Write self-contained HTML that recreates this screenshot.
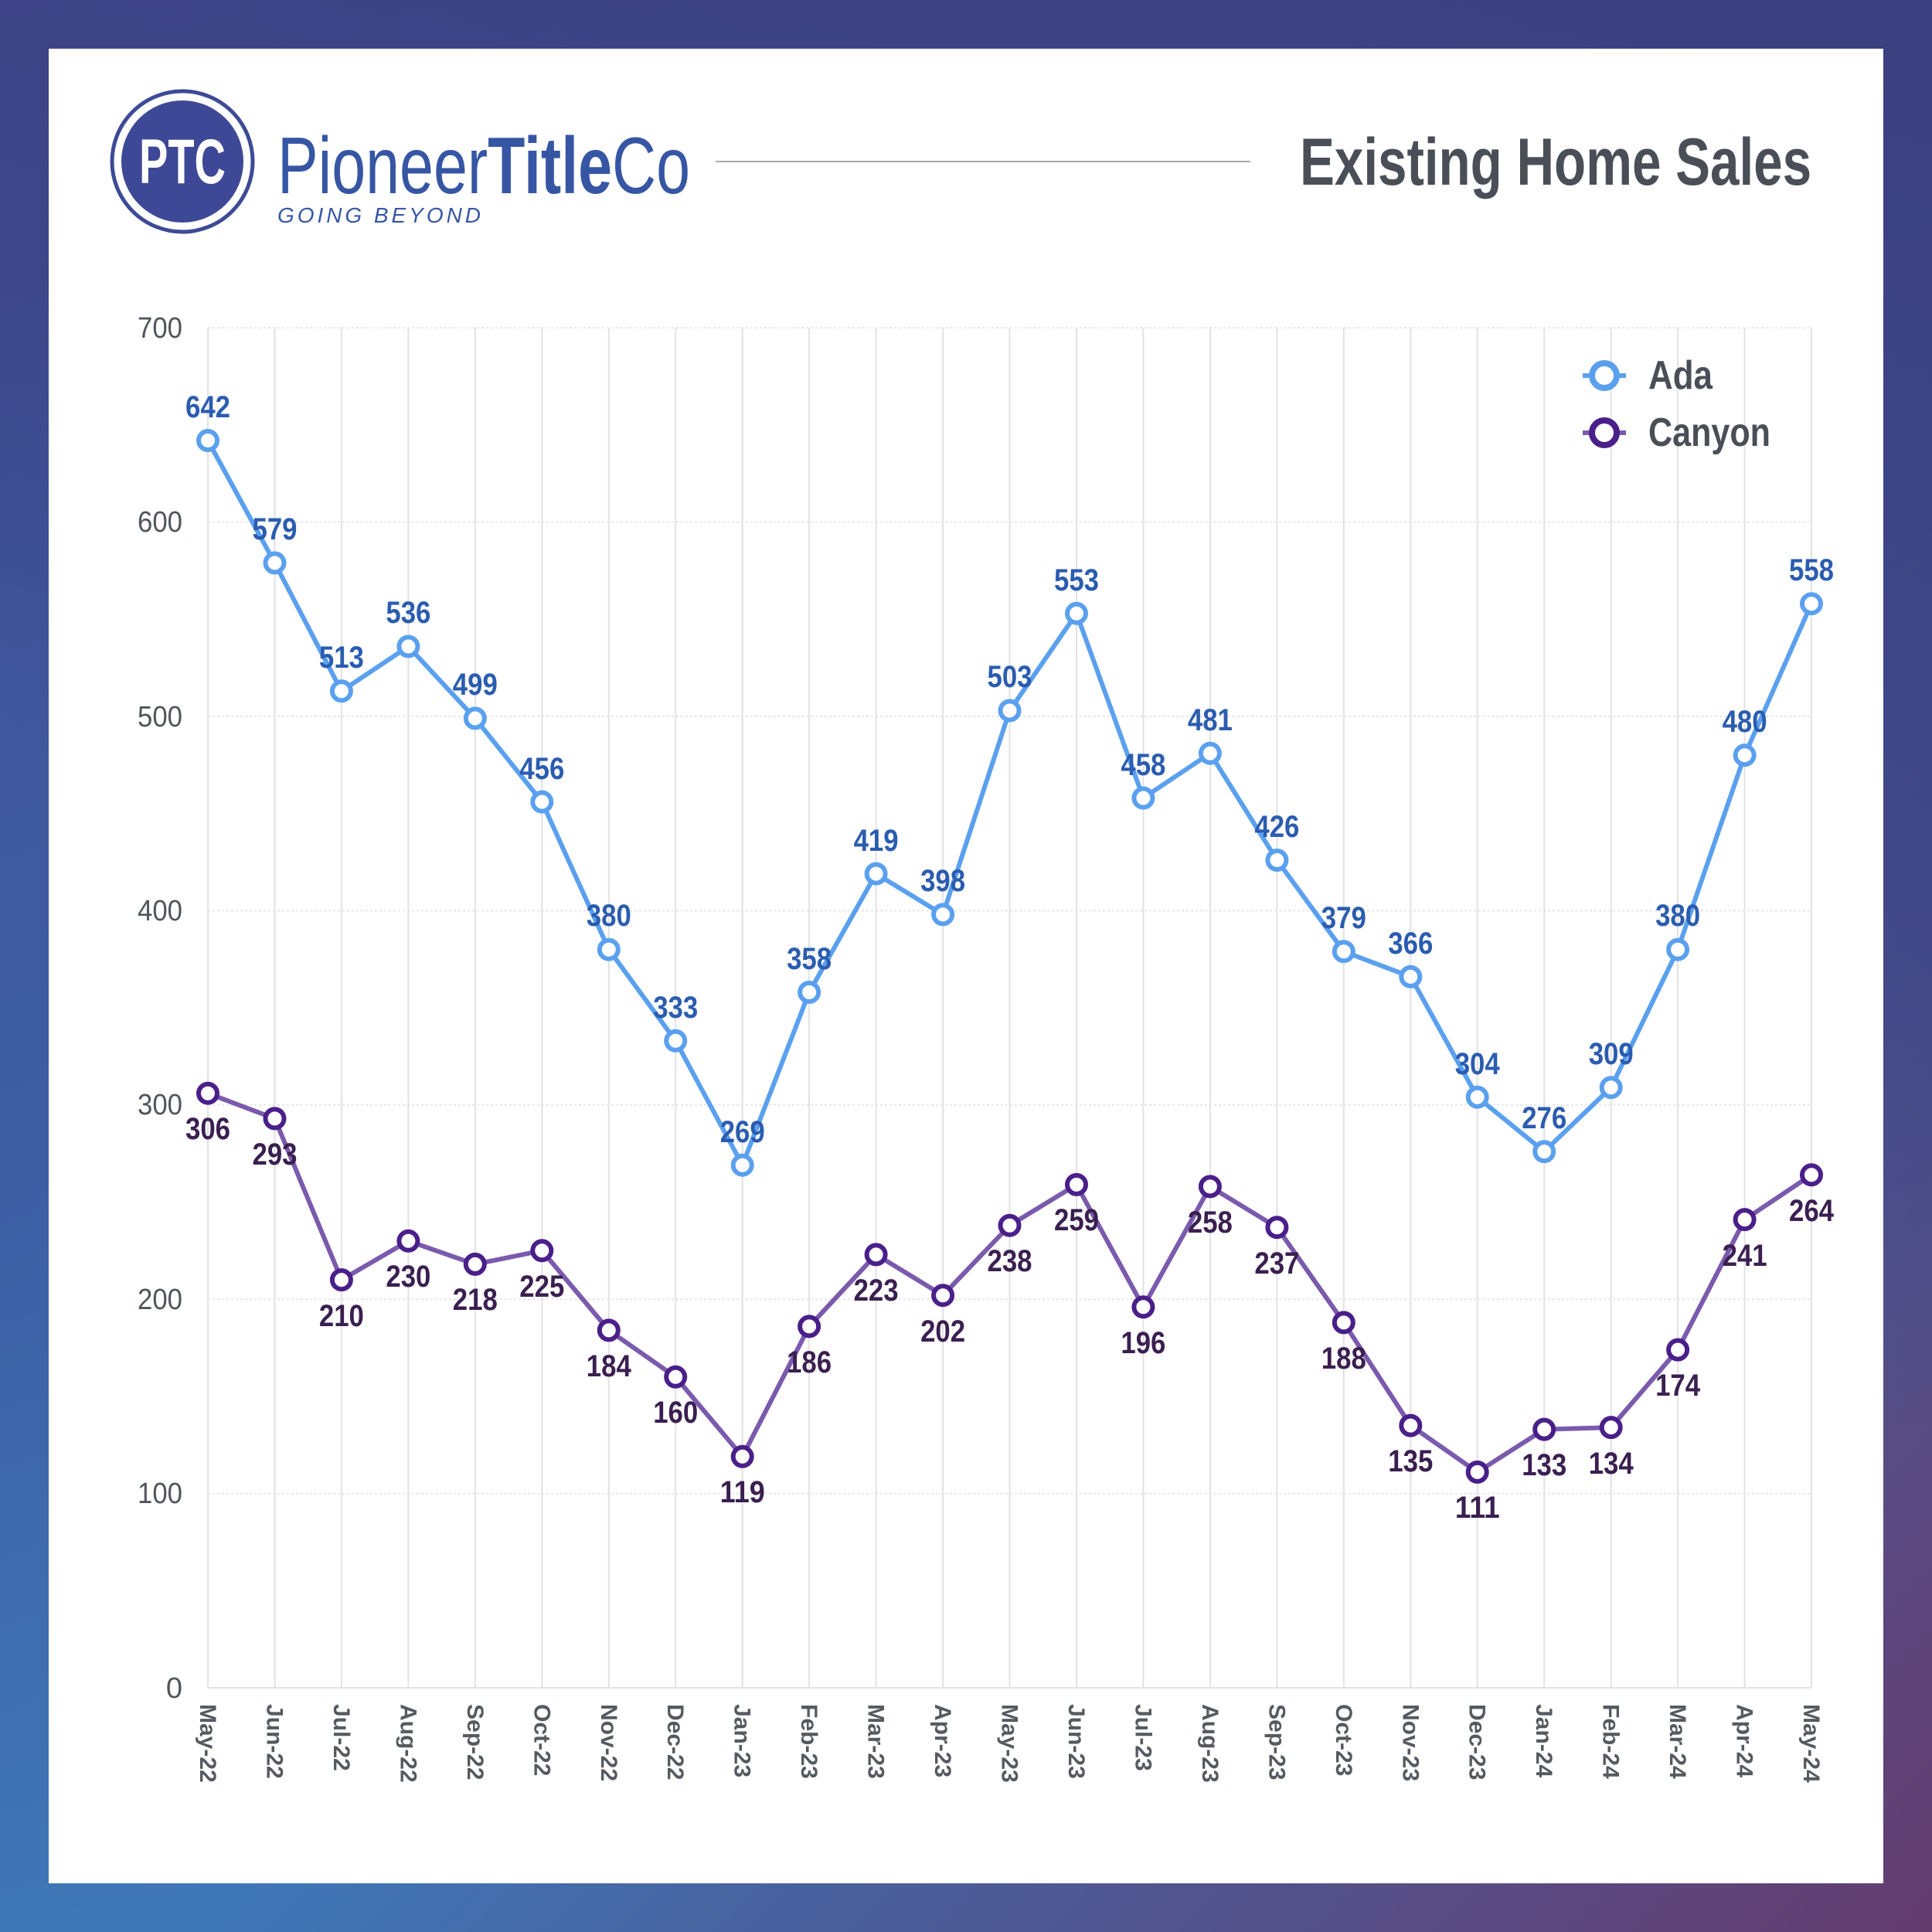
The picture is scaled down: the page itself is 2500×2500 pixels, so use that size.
<!DOCTYPE html>
<html><head><meta charset="utf-8"><style>
html,body{margin:0;padding:0;width:2500px;height:2500px;overflow:hidden}
body{background:linear-gradient(160deg,#414d93 0%,#3e5ea4 45%,#3f78b8 75%,#3f78b8 100%)}
.ov{position:absolute;left:0;top:0;width:2500px;height:2500px;background:linear-gradient(200deg,rgba(59,63,128,1) 0%,rgba(59,63,128,0.6) 35%,rgba(94,61,110,0) 55%),linear-gradient(315deg,rgba(100,60,110,1) 0%,rgba(90,60,115,0.5) 25%,rgba(90,60,115,0) 45%)}
svg{position:absolute;left:0;top:0}
text{font-family:"Liberation Sans Narrow","Liberation Sans",sans-serif}
</style></head><body><div class="ov"></div>
<svg width="2500" height="2500" viewBox="0 0 2500 2500">
<rect x="63" y="63" width="2374" height="2374" fill="#fff"/>
<circle cx="236" cy="209" r="91" fill="#fff" stroke="#3d4a96" stroke-width="5"/>
<circle cx="236" cy="209" r="79" fill="#3d4896"/>
<text x="236" y="237" text-anchor="middle" font-size="82" fill="#fff" font-weight="bold" textLength="112" lengthAdjust="spacingAndGlyphs">PTC</text>
<text x="359" y="250" font-size="104" fill="#3656a4" textLength="534" lengthAdjust="spacingAndGlyphs">Pioneer<tspan font-weight="bold">Title</tspan>Co</text>
<text x="359" y="288" font-size="28" font-style="italic" fill="#3656a4" textLength="263" lengthAdjust="spacing">GOING  BEYOND</text>
<line x1="926" y1="209" x2="1618" y2="209" stroke="#aaa" stroke-width="2"/>
<text x="2344" y="239" text-anchor="end" font-size="86" font-weight="bold" fill="#4a4f57" textLength="662" lengthAdjust="spacingAndGlyphs">Existing Home Sales</text>
<g stroke="#e6e6e6" stroke-width="2" stroke-dasharray="3,3">
<line x1="269" y1="424.2" x2="2344" y2="424.2"/><line x1="269" y1="675.6" x2="2344" y2="675.6"/><line x1="269" y1="927" x2="2344" y2="927"/><line x1="269" y1="1178.4" x2="2344" y2="1178.4"/><line x1="269" y1="1429.8" x2="2344" y2="1429.8"/><line x1="269" y1="1681.2" x2="2344" y2="1681.2"/><line x1="269" y1="1932.6" x2="2344" y2="1932.6"/>
</g>
<g stroke="#e2e2e2" stroke-width="2">
<line x1="269" y1="424" x2="269" y2="2184"/><line x1="355.5" y1="424" x2="355.5" y2="2184"/><line x1="441.9" y1="424" x2="441.9" y2="2184"/><line x1="528.4" y1="424" x2="528.4" y2="2184"/><line x1="614.8" y1="424" x2="614.8" y2="2184"/><line x1="701.3" y1="424" x2="701.3" y2="2184"/><line x1="787.8" y1="424" x2="787.8" y2="2184"/><line x1="874.2" y1="424" x2="874.2" y2="2184"/><line x1="960.7" y1="424" x2="960.7" y2="2184"/><line x1="1047.1" y1="424" x2="1047.1" y2="2184"/><line x1="1133.6" y1="424" x2="1133.6" y2="2184"/><line x1="1220.1" y1="424" x2="1220.1" y2="2184"/><line x1="1306.5" y1="424" x2="1306.5" y2="2184"/><line x1="1393" y1="424" x2="1393" y2="2184"/><line x1="1479.4" y1="424" x2="1479.4" y2="2184"/><line x1="1565.9" y1="424" x2="1565.9" y2="2184"/><line x1="1652.4" y1="424" x2="1652.4" y2="2184"/><line x1="1738.8" y1="424" x2="1738.8" y2="2184"/><line x1="1825.3" y1="424" x2="1825.3" y2="2184"/><line x1="1911.7" y1="424" x2="1911.7" y2="2184"/><line x1="1998.2" y1="424" x2="1998.2" y2="2184"/><line x1="2084.7" y1="424" x2="2084.7" y2="2184"/><line x1="2171.1" y1="424" x2="2171.1" y2="2184"/><line x1="2257.6" y1="424" x2="2257.6" y2="2184"/><line x1="2344" y1="424" x2="2344" y2="2184"/>
<line x1="269" y1="2184" x2="2344" y2="2184"/>
</g>
<g font-size="38" fill="#50555c" text-anchor="end">
<text x="236" y="2197">0</text><text x="236" y="1945" textLength="58" lengthAdjust="spacingAndGlyphs">100</text><text x="236" y="1694" textLength="58" lengthAdjust="spacingAndGlyphs">200</text><text x="236" y="1442" textLength="58" lengthAdjust="spacingAndGlyphs">300</text><text x="236" y="1191" textLength="58" lengthAdjust="spacingAndGlyphs">400</text><text x="236" y="940" textLength="58" lengthAdjust="spacingAndGlyphs">500</text><text x="236" y="688" textLength="58" lengthAdjust="spacingAndGlyphs">600</text><text x="236" y="437" textLength="58" lengthAdjust="spacingAndGlyphs">700</text>
</g>
<g font-size="30" font-weight="bold" fill="#555a60">
<text transform="translate(259,2205) rotate(90)">May-22</text>
<text transform="translate(345.5,2205) rotate(90)">Jun-22</text>
<text transform="translate(431.9,2205) rotate(90)">Jul-22</text>
<text transform="translate(518.4,2205) rotate(90)">Aug-22</text>
<text transform="translate(604.8,2205) rotate(90)">Sep-22</text>
<text transform="translate(691.3,2205) rotate(90)">Oct-22</text>
<text transform="translate(777.8,2205) rotate(90)">Nov-22</text>
<text transform="translate(864.2,2205) rotate(90)">Dec-22</text>
<text transform="translate(950.7,2205) rotate(90)">Jan-23</text>
<text transform="translate(1037.1,2205) rotate(90)">Feb-23</text>
<text transform="translate(1123.6,2205) rotate(90)">Mar-23</text>
<text transform="translate(1210.1,2205) rotate(90)">Apr-23</text>
<text transform="translate(1296.5,2205) rotate(90)">May-23</text>
<text transform="translate(1383,2205) rotate(90)">Jun-23</text>
<text transform="translate(1469.4,2205) rotate(90)">Jul-23</text>
<text transform="translate(1555.9,2205) rotate(90)">Aug-23</text>
<text transform="translate(1642.4,2205) rotate(90)">Sep-23</text>
<text transform="translate(1728.8,2205) rotate(90)">Oct-23</text>
<text transform="translate(1815.3,2205) rotate(90)">Nov-23</text>
<text transform="translate(1901.7,2205) rotate(90)">Dec-23</text>
<text transform="translate(1988.2,2205) rotate(90)">Jan-24</text>
<text transform="translate(2074.7,2205) rotate(90)">Feb-24</text>
<text transform="translate(2161.1,2205) rotate(90)">Mar-24</text>
<text transform="translate(2247.6,2205) rotate(90)">Apr-24</text>
<text transform="translate(2334,2205) rotate(90)">May-24</text>
</g>
<polyline fill="none" stroke="#7a5aad" stroke-width="6" stroke-linejoin="round" points="269,1414.7 355.5,1447.4 441.9,1656.1 528.4,1605.8 614.8,1635.9 701.3,1618.3 787.8,1721.4 874.2,1781.8 960.7,1884.8 1047.1,1716.4 1133.6,1623.4 1220.1,1676.2 1306.5,1585.7 1393,1532.9 1479.4,1691.3 1565.9,1535.4 1652.4,1588.2 1738.8,1711.4 1825.3,1844.6 1911.7,1904.9 1998.2,1849.6 2084.7,1847.1 2171.1,1746.6 2257.6,1578.1 2344,1520.3"/>
<g fill="#fff" stroke="#4a1f8a" stroke-width="6">
<circle cx="269" cy="1414.7" r="12"/><circle cx="355.5" cy="1447.4" r="12"/><circle cx="441.9" cy="1656.1" r="12"/><circle cx="528.4" cy="1605.8" r="12"/><circle cx="614.8" cy="1635.9" r="12"/><circle cx="701.3" cy="1618.3" r="12"/><circle cx="787.8" cy="1721.4" r="12"/><circle cx="874.2" cy="1781.8" r="12"/><circle cx="960.7" cy="1884.8" r="12"/><circle cx="1047.1" cy="1716.4" r="12"/><circle cx="1133.6" cy="1623.4" r="12"/><circle cx="1220.1" cy="1676.2" r="12"/><circle cx="1306.5" cy="1585.7" r="12"/><circle cx="1393" cy="1532.9" r="12"/><circle cx="1479.4" cy="1691.3" r="12"/><circle cx="1565.9" cy="1535.4" r="12"/><circle cx="1652.4" cy="1588.2" r="12"/><circle cx="1738.8" cy="1711.4" r="12"/><circle cx="1825.3" cy="1844.6" r="12"/><circle cx="1911.7" cy="1904.9" r="12"/><circle cx="1998.2" cy="1849.6" r="12"/><circle cx="2084.7" cy="1847.1" r="12"/><circle cx="2171.1" cy="1746.6" r="12"/><circle cx="2257.6" cy="1578.1" r="12"/><circle cx="2344" cy="1520.3" r="12"/>
</g>
<g font-size="40" font-weight="bold" fill="#3a1f50" text-anchor="middle" lengthAdjust="spacingAndGlyphs">
<text x="269" y="1474" textLength="58" lengthAdjust="spacingAndGlyphs">306</text><text x="355.5" y="1507" textLength="58" lengthAdjust="spacingAndGlyphs">293</text><text x="441.9" y="1716" textLength="58" lengthAdjust="spacingAndGlyphs">210</text><text x="528.4" y="1665" textLength="58" lengthAdjust="spacingAndGlyphs">230</text><text x="614.8" y="1695" textLength="58" lengthAdjust="spacingAndGlyphs">218</text><text x="701.3" y="1678" textLength="58" lengthAdjust="spacingAndGlyphs">225</text><text x="787.8" y="1781" textLength="58" lengthAdjust="spacingAndGlyphs">184</text><text x="874.2" y="1841" textLength="58" lengthAdjust="spacingAndGlyphs">160</text><text x="960.7" y="1944" textLength="58" lengthAdjust="spacingAndGlyphs">119</text><text x="1047.1" y="1776" textLength="58" lengthAdjust="spacingAndGlyphs">186</text><text x="1133.6" y="1683" textLength="58" lengthAdjust="spacingAndGlyphs">223</text><text x="1220.1" y="1736" textLength="58" lengthAdjust="spacingAndGlyphs">202</text><text x="1306.5" y="1645" textLength="58" lengthAdjust="spacingAndGlyphs">238</text><text x="1393" y="1592" textLength="58" lengthAdjust="spacingAndGlyphs">259</text><text x="1479.4" y="1751" textLength="58" lengthAdjust="spacingAndGlyphs">196</text><text x="1565.9" y="1595" textLength="58" lengthAdjust="spacingAndGlyphs">258</text><text x="1652.4" y="1648" textLength="58" lengthAdjust="spacingAndGlyphs">237</text><text x="1738.8" y="1771" textLength="58" lengthAdjust="spacingAndGlyphs">188</text><text x="1825.3" y="1904" textLength="58" lengthAdjust="spacingAndGlyphs">135</text><text x="1911.7" y="1964" textLength="58" lengthAdjust="spacingAndGlyphs">111</text><text x="1998.2" y="1909" textLength="58" lengthAdjust="spacingAndGlyphs">133</text><text x="2084.7" y="1907" textLength="58" lengthAdjust="spacingAndGlyphs">134</text><text x="2171.1" y="1806" textLength="58" lengthAdjust="spacingAndGlyphs">174</text><text x="2257.6" y="1638" textLength="58" lengthAdjust="spacingAndGlyphs">241</text><text x="2344" y="1580" textLength="58" lengthAdjust="spacingAndGlyphs">264</text>
</g>
<polyline fill="none" stroke="#5aa0ef" stroke-width="6" stroke-linejoin="round" points="269,570 355.5,728.4 441.9,894.3 528.4,836.5 614.8,929.5 701.3,1037.6 787.8,1228.7 874.2,1346.8 960.7,1507.7 1047.1,1284 1133.6,1130.6 1220.1,1183.4 1306.5,919.5 1393,793.8 1479.4,1032.6 1565.9,974.8 1652.4,1113 1738.8,1231.2 1825.3,1263.9 1911.7,1419.7 1998.2,1490.1 2084.7,1407.2 2171.1,1228.7 2257.6,977.3 2344,781.2"/>
<g fill="#fff" stroke="#5aa0ef" stroke-width="6">
<circle cx="269" cy="570" r="12"/><circle cx="355.5" cy="728.4" r="12"/><circle cx="441.9" cy="894.3" r="12"/><circle cx="528.4" cy="836.5" r="12"/><circle cx="614.8" cy="929.5" r="12"/><circle cx="701.3" cy="1037.6" r="12"/><circle cx="787.8" cy="1228.7" r="12"/><circle cx="874.2" cy="1346.8" r="12"/><circle cx="960.7" cy="1507.7" r="12"/><circle cx="1047.1" cy="1284" r="12"/><circle cx="1133.6" cy="1130.6" r="12"/><circle cx="1220.1" cy="1183.4" r="12"/><circle cx="1306.5" cy="919.5" r="12"/><circle cx="1393" cy="793.8" r="12"/><circle cx="1479.4" cy="1032.6" r="12"/><circle cx="1565.9" cy="974.8" r="12"/><circle cx="1652.4" cy="1113" r="12"/><circle cx="1738.8" cy="1231.2" r="12"/><circle cx="1825.3" cy="1263.9" r="12"/><circle cx="1911.7" cy="1419.7" r="12"/><circle cx="1998.2" cy="1490.1" r="12"/><circle cx="2084.7" cy="1407.2" r="12"/><circle cx="2171.1" cy="1228.7" r="12"/><circle cx="2257.6" cy="977.3" r="12"/><circle cx="2344" cy="781.2" r="12"/>
</g>
<g font-size="40" font-weight="bold" fill="#2a5cb0" text-anchor="middle">
<text x="269" y="540" textLength="58" lengthAdjust="spacingAndGlyphs">642</text><text x="355.5" y="698" textLength="58" lengthAdjust="spacingAndGlyphs">579</text><text x="441.9" y="864" textLength="58" lengthAdjust="spacingAndGlyphs">513</text><text x="528.4" y="806" textLength="58" lengthAdjust="spacingAndGlyphs">536</text><text x="614.8" y="899" textLength="58" lengthAdjust="spacingAndGlyphs">499</text><text x="701.3" y="1008" textLength="58" lengthAdjust="spacingAndGlyphs">456</text><text x="787.8" y="1198" textLength="58" lengthAdjust="spacingAndGlyphs">380</text><text x="874.2" y="1317" textLength="58" lengthAdjust="spacingAndGlyphs">333</text><text x="960.7" y="1478" textLength="58" lengthAdjust="spacingAndGlyphs">269</text><text x="1047.1" y="1254" textLength="58" lengthAdjust="spacingAndGlyphs">358</text><text x="1133.6" y="1101" textLength="58" lengthAdjust="spacingAndGlyphs">419</text><text x="1220.1" y="1153" textLength="58" lengthAdjust="spacingAndGlyphs">398</text><text x="1306.5" y="889" textLength="58" lengthAdjust="spacingAndGlyphs">503</text><text x="1393" y="764" textLength="58" lengthAdjust="spacingAndGlyphs">553</text><text x="1479.4" y="1003" textLength="58" lengthAdjust="spacingAndGlyphs">458</text><text x="1565.9" y="945" textLength="58" lengthAdjust="spacingAndGlyphs">481</text><text x="1652.4" y="1083" textLength="58" lengthAdjust="spacingAndGlyphs">426</text><text x="1738.8" y="1201" textLength="58" lengthAdjust="spacingAndGlyphs">379</text><text x="1825.3" y="1234" textLength="58" lengthAdjust="spacingAndGlyphs">366</text><text x="1911.7" y="1390" textLength="58" lengthAdjust="spacingAndGlyphs">304</text><text x="1998.2" y="1460" textLength="58" lengthAdjust="spacingAndGlyphs">276</text><text x="2084.7" y="1377" textLength="58" lengthAdjust="spacingAndGlyphs">309</text><text x="2171.1" y="1198" textLength="58" lengthAdjust="spacingAndGlyphs">380</text><text x="2257.6" y="947" textLength="58" lengthAdjust="spacingAndGlyphs">480</text><text x="2344" y="751" textLength="58" lengthAdjust="spacingAndGlyphs">558</text>
</g>
<line x1="2048" y1="486" x2="2104" y2="486" stroke="#5aa0ef" stroke-width="6"/>
<circle cx="2076" cy="486" r="16" fill="#fff" stroke="#5aa0ef" stroke-width="8"/>
<text x="2133" y="503" font-size="52" font-weight="bold" fill="#4a4f57" textLength="83" lengthAdjust="spacingAndGlyphs">Ada</text>
<line x1="2048" y1="560" x2="2104" y2="560" stroke="#7a5aad" stroke-width="6"/>
<circle cx="2076" cy="560" r="16" fill="#fff" stroke="#4a1f8a" stroke-width="8"/>
<text x="2133" y="577" font-size="52" font-weight="bold" fill="#4a4f57" textLength="158" lengthAdjust="spacingAndGlyphs">Canyon</text>
</svg>
</body></html>
